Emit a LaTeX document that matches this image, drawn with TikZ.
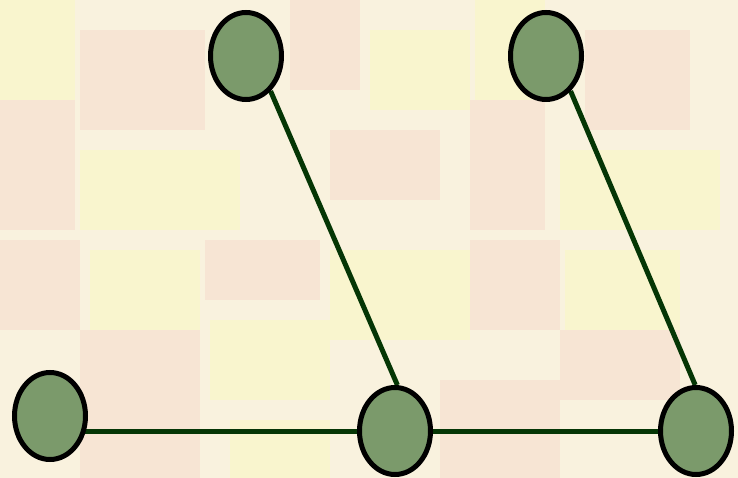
\documentclass[tikz,border=0pt]{standalone}
\usetikzlibrary{shapes.geometric}
\pgfdeclarelayer{background}
\pgfdeclarelayer{bg}
\pgfsetlayers{bg,background,main}
\definecolor{bgbase}{HTML}{F9F2DE}
\definecolor{bgpink}{HTML}{F4C9C0}
\definecolor{bgyellow}{HTML}{FAF7C4}
\definecolor{nodefill}{HTML}{7B9A6B}
\definecolor{edgecol}{HTML}{053605}
\tikzset{
  vert/.style={ellipse, draw=black, line width=5pt, fill=nodefill,
    minimum width=71pt, minimum height=87pt, inner sep=0pt},
  link/.style={draw=edgecol, line width=5pt},
  patchp/.style={fill=bgpink, opacity=0.3},
  patchy/.style={fill=bgyellow, opacity=0.6}
}
\begin{document}
\begin{tikzpicture}[x=1pt,y=-1pt]
\begin{pgfonlayer}{bg}
  \fill[bgbase] (0,0) rectangle (738,478);
  \path[patchy] (0,0) rectangle (75,100);
  \path[patchp] (80,30) rectangle (205,130);
  \path[patchp] (0,100) rectangle (75,230);
  \path[patchy] (80,150) rectangle (240,230);
  \path[patchp] (290,0) rectangle (360,90);
  \path[patchy] (370,30) rectangle (470,110);
  \path[patchp] (330,130) rectangle (440,200);
  \path[patchy] (475,0) rectangle (545,100);
  \path[patchp] (585,30) rectangle (690,130);
  \path[patchp] (470,100) rectangle (545,230);
  \path[patchy] (560,150) rectangle (720,230);
  \path[patchp] (0,240) rectangle (80,330);
  \path[patchy] (90,250) rectangle (200,330);
  \path[patchp] (205,240) rectangle (320,300);
  \path[patchy] (210,320) rectangle (330,400);
  \path[patchp] (80,330) rectangle (200,478);
  \path[patchy] (330,250) rectangle (470,340);
  \path[patchp] (470,240) rectangle (560,330);
  \path[patchy] (565,250) rectangle (680,330);
  \path[patchp] (560,330) rectangle (680,400);
  \path[patchp] (440,380) rectangle (560,478);
  \path[patchy] (230,420) rectangle (330,478);
\end{pgfonlayer}
\node[vert] (A) at (246,56) {};
\node[vert] (B) at (546,56) {};
\node[vert] (C) at (50,416) {};
\node[vert] (D) at (395,431) {};
\node[vert] (E) at (696,431) {};
\begin{pgfonlayer}{background}
  \draw[link] (A.-55) -- (D.87);
  \draw[link] (B.-55) -- (E.91);
  \draw[link] (D.west) -- (D.west -| C.center);
  \draw[link] (D.east) -- (E.west);
\end{pgfonlayer}
\end{tikzpicture}
\end{document}
